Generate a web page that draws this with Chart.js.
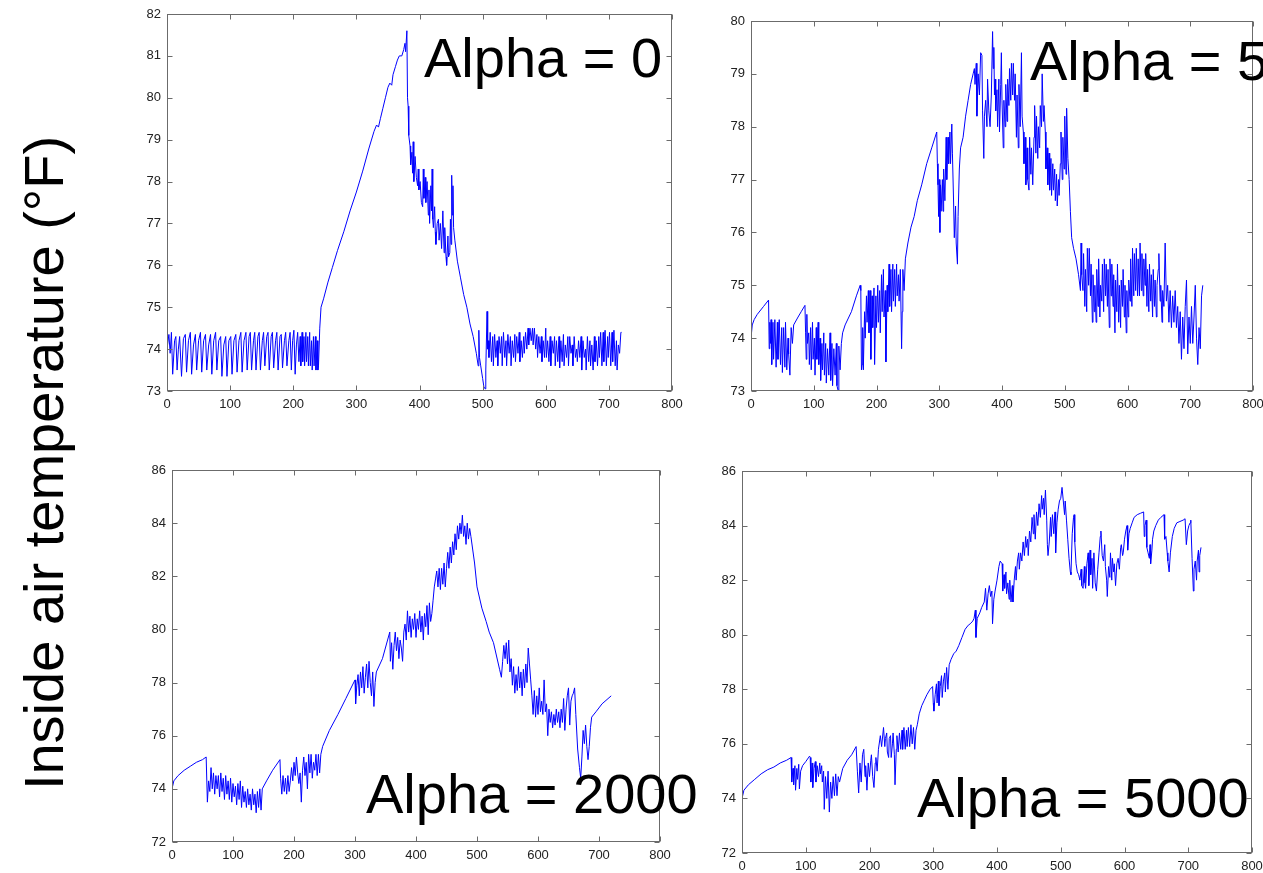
<!DOCTYPE html>
<html>
<head>
<meta charset="utf-8">
<script src="https://cdn.jsdelivr.net/npm/chart.js@4.4.1/dist/chart.umd.min.js"></script>
<style>
  html, body { margin:0; padding:0; background:#fff; width:1263px; height:873px; overflow:hidden; }
  .cv { position:absolute; }
  .big { position:absolute; font-family:"Liberation Sans", Arial, sans-serif; font-size:56px; line-height:56px; color:#000; white-space:nowrap; z-index:5; }
  #ytitle { position:absolute; width:700px; height:56px; left:-306.4px; top:434.5px; font-family:"Liberation Sans", Arial, sans-serif; font-size:56px; line-height:56px; text-align:center; white-space:nowrap; transform:rotate(-90deg); color:#000; }
</style>
</head>
<body>
<div id="ytitle">Inside air temperature (°F)</div>
<canvas id="c0" class="cv"></canvas>
<canvas id="c1" class="cv"></canvas>
<canvas id="c2" class="cv"></canvas>
<canvas id="c3" class="cv"></canvas>
<div class="big" style="left:424px; top:29.6px;">Alpha = 0</div>
<div class="big" style="left:1030px; top:32.6px;">Alpha = 5</div>
<div class="big" style="left:366px; top:765.6px;">Alpha = 2000</div>
<div class="big" style="left:917px; top:769.6px;">Alpha = 5000</div>
<script>
// ---- tick labels ----
const xTicks = [0,100,200,300,400,500,600,700,800];
const yTicksA0 = [73,74,75,76,77,78,79,80,81,82];
const yTicksA5 = [73,74,75,76,77,78,79,80];
const yTicksA2000 = [72,74,76,78,80,82,84,86];
const yTicksA5000 = [72,74,76,78,80,82,84,86];
const titles = ["Alpha = 0", "Alpha = 5", "Alpha = 2000", "Alpha = 5000"];

// ---- series: [time, inside air temperature °F] ----
const alpha0 = [[0,74.0],[3,74.35],[5,73.9],[7,74.4],[9,73.4],[12,74.2],[14,74.3],[16,73.5],[18,74.0],[20,74.3],[23,73.35],[26,74.25],[29,74.35],[31,73.45],[34,74.2],[37,74.4],[39,73.4],[42,74.1],[45,74.35],[47,73.5],[50,74.2],[53,74.4],[55,73.45],[58,74.2],[61,74.35],[63,73.5],[66,74.1],[69,74.35],[71,73.4],[74,74.2],[77,74.4],[79,73.5],[82,74.2],[85,74.3],[87,73.35],[90,74.1],[93,74.3],[95,73.35],[98,74.2],[101,74.3],[103,73.4],[106,74.2],[109,74.35],[111,73.45],[114,74.2],[117,74.4],[119,73.45],[122,74.2],[125,74.4],[127,73.5],[130,74.3],[132,74.4],[134,73.5],[137,74.2],[139,74.4],[141,73.5],[144,74.3],[146,74.4],[148,73.5],[151,74.2],[153,74.4],[155,73.6],[158,74.3],[160,74.4],[162,73.5],[165,74.3],[167,74.4],[169,73.55],[172,74.2],[174,74.4],[176,73.5],[179,74.3],[181,74.35],[183,73.55],[186,74.2],[188,74.4],[190,73.6],[193,74.2],[195,74.4],[197,73.5],[199,74.2],[201,74.45],[203,73.4],[205,74.1],[207,74.4],[209,73.7],[211,74.3],[212,73.6],[214,74.4],[215,73.7],[217,74.3],[218,73.6],[220,74.4],[221,73.7],[223,74.3],[224,73.6],[226,74.4],[227,73.6],[229,74.2],[230,73.5],[232,74.3],[233,73.6],[235,74.3],[236,73.5],[238,74.2],[239,73.5],[240,73.6],
[242,74.5],[244,75.0],[248,75.2],[255,75.6],[262,75.95],[270,76.35],[280,76.8],[290,77.3],[300,77.75],[310,78.25],[320,78.8],[328,79.2],[332,79.35],[335,79.3],[338,79.5],[342,79.75],[346,80.0],[350,80.25],[353,80.35],[356,80.3],[358,80.55],[362,80.75],[365,80.9],[368,81.0],[372,81.0],[375,81.15],[377,81.3],[378,81.1],[380,81.6],[381,80.0],[382,79.8],[383,79.1],[385,78.85],[386,78.4],[388,78.7],[389,78.2],[390,78.95],[391,78.0],[393,78.6],[395,78.1],[397,77.9],
[398,78.3],[399,77.8],[401,78.0],[403,77.5],[405,77.4],[406,78.3],[407,77.6],[409,78.1],[410,77.5],[412,78.0],[414,77.2],[415,77.8],[416,77.0],[418,77.9],[419,77.3],[420,78.3],[421,77.1],[422,76.9],[424,77.4],[425,76.8],[426,76.5],[428,77.0],[430,77.1],[431,76.6],[433,77.0],[435,76.4],[437,77.3],[439,76.3],[440,76.9],[442,76.2],[443,76.0],[445,76.7],[446,76.2],[448,76.3],[449,77.1],[450,76.5],[451,78.15],[452,77.2],[453,77.9],[454,76.9],
[456,76.6],[460,76.1],[465,75.7],[470,75.3],[475,75.0],[480,74.6],[485,74.3],[490,73.9],[493,73.6],[494,74.45],[495,73.8],[497,73.6],[500,73.3],[502,73.1],[504,73.05],[505,73.5],[507,74.9],[508,74.0],[509,74.2],[510,73.8],
[512,74.4],[514,73.7],[516,74.3],[517,73.6],[519,74.35],[521,73.8],[523,74.2],[524,73.6],[526,74.3],[528,73.9],[530,74.3],[531,73.6],[533,74.4],[535,73.8],[537,74.2],[538,73.6],[540,74.35],[542,73.9],[544,74.3],[545,73.6],[547,74.2],[549,73.8],[551,74.35],[552,73.7],[554,74.3],[556,73.9],[558,74.4],[559,73.7],[561,74.2],[563,73.8],[565,74.3],[566,73.9],[568,74.4],[570,74.0],[572,74.5],[573,74.1],[575,74.5],[577,74.2],[579,74.5],[580,74.1],[582,74.5],[584,74.0],[586,74.35],[587,73.8],[589,74.3],[591,73.9],[593,74.3],[594,73.7],[596,74.2],[598,73.8],[600,74.5],[601,73.8],[603,74.2],[605,73.7],[607,74.3],[608,73.6],[610,74.2],[612,73.9],[614,74.3],[615,73.6],[617,74.2],[619,73.7],[621,74.3],[622,73.55],[624,74.2],[626,73.7],[628,74.35],[629,73.6],[631,74.1],[633,73.8],[635,74.3],[636,73.6],[638,74.3],[640,73.9],[642,74.1],[643,73.6],[645,74.3],[647,73.8],[649,74.0],[650,73.7],[652,74.2],[654,73.8],[656,74.3],[657,73.5],[659,74.2],[661,73.8],[663,74.0],[664,73.5],[666,74.3],[668,73.7],[670,74.2],[671,73.6],[673,74.1],[675,73.5],[677,74.3],[678,73.7],[680,74.2],[682,73.6],[684,74.3],[685,73.8],[687,74.4],[689,73.6],[691,74.4],[692,73.7],[694,74.45],[696,73.6],[698,74.3],[699,73.8],[701,74.4],[703,73.6],[705,74.4],[706,73.7],[708,74.45],[710,73.6],[712,74.2],[713,73.5],[715,74.1],[717,73.9],[719,74.4],[720,74.4]];

const alpha5 = [[0,74.0],[2,74.25],[5,74.35],[10,74.45],[20,74.6],[28,74.72],[29,73.8],[30,74.3],[31,73.9],[32,74.35],[33,73.5],[35,74.3],[36,73.6],[38,74.35],[40,73.45],[42,74.3],[43,73.6],[45,74.35],[47,73.5],[49,74.2],[50,73.35],[52,74.2],[54,73.45],[55,74.3],[57,73.4],[59,74.0],[60,73.7],[62,73.3],[64,74.2],[66,73.9],[68,74.25],[75,74.4],[80,74.5],[86,74.62],[87,74.1],[88,73.6],[89,74.45],[90,73.9],[92,74.1],[93,73.5],[95,74.2],[96,73.4],[98,74.3],[99,73.6],[101,74.0],[102,73.3],[104,74.2],[105,73.6],[107,74.3],[108,73.5],[110,74.0],[111,73.2],[113,73.9],[114,73.4],[116,74.1],[117,73.3],[119,73.9],[120,73.15],[122,73.8],[124,73.3],[126,74.1],[127,73.2],[129,73.9],[130,73.1],[132,73.8],[134,73.3],[136,73.9],[137,73.1],[139,73.0],[140,73.85],[142,73.4],[144,73.9],[146,74.1],[150,74.25],[160,74.5],[168,74.8],[174,75.0],[175,74.9],[176,73.4],[177,73.5],[178,74.2],[179,73.4],[181,74.5],[182,74.0],[184,74.8],[185,74.3],[187,74.9],[188,74.1],[190,74.9],[191,73.6],[193,74.8],[194,74.2],[196,74.95],[197,73.5],[199,74.8],[200,74.2],[202,75.0],[203,74.3],[205,74.9],[206,74.1],[208,75.2],[209,74.5],[211,75.3],[212,74.4],[214,74.9],[215,73.55],[217,75.0],[218,74.5],[220,75.4],[221,74.6],[223,75.3],[224,74.5],[226,75.4],[227,74.7],[229,75.3],[230,74.6],[232,75.4],[233,74.8],[235,75.2],[236,74.7],[238,75.3],[240,73.8],[241,74.5],[242,75.3],[244,74.9],[246,75.5],[250,75.8],[255,76.1],[260,76.3],[265,76.6],[272,76.9],[280,77.3],[288,77.6],[296,77.9],[297,77.3],[298,76.9],[299,76.3],[300,77.0],[301,76.0],[302,76.9],[303,76.4],[305,77.0],[306,76.4],[307,77.2],[309,76.6],[311,77.8],[312,77.0],[314,77.8],[315,77.3],[317,77.9],[318,77.3],[320,78.05],[321,77.5],[323,76.5],[324,75.9],[326,76.5],[327,75.8],[329,75.4],[330,76.3],[332,77.2],[334,77.6],[338,77.8],[342,78.2],[346,78.5],[350,78.8],[354,79.0],[356,79.1],[357,78.8],[359,79.2],[360,78.2],[362,79.0],[364,78.6],[366,79.4],[368,79.35],[369,78.3],[371,77.4],[372,78.2],[374,78.5],[376,78.0],[377,78.9],[379,78.3],[381,78.0],[383,78.6],[385,79.8],[386,79.1],[387,79.5],[388,78.6],[389,78.9],[390,78.3],[392,78.7],[393,78.0],[395,78.9],[396,77.9],[398,78.8],[399,79.4],[400,78.5],[402,77.6],[403,78.5],[405,78.0],[406,78.8],[408,78.1],[409,78.9],[411,78.4],[412,79.1],[414,78.5],[415,79.2],[417,78.6],[418,79.2],[420,78.5],[421,79.0],[423,77.8],[424,78.6],[426,77.6],[427,78.8],[429,78.0],[431,79.4],[432,78.2],[434,77.9],[435,77.3],[437,77.8],[438,76.9],[440,77.6],[441,77.0],[443,76.8],[444,77.8],[446,77.1],[447,77.6],[449,76.9],[451,77.8],[452,78.4],[454,77.5],[455,78.2],[457,77.4],[458,78.0],[460,77.6],[461,78.4],[463,78.0],[464,79.0],[466,78.1],[467,78.4],[469,77.9],[470,77.2],[472,77.6],[473,76.9],[475,77.5],[476,76.8],[478,77.4],[479,76.7],[481,77.3],[482,76.8],[484,77.2],[485,76.6],[487,77.1],[488,76.5],[490,77.0],[491,76.7],[493,77.3],[494,77.9],[496,77.0],[497,77.8],[499,77.2],[500,78.2],[502,77.1],[503,78.35],[505,77.4],[507,77.0],[509,76.4],[511,75.9],[514,75.7],[518,75.5],[522,75.2],[525,74.9],[526,75.8],[527,75.2],[529,74.9],[530,75.6],[532,74.6],[533,75.3],[535,74.5],[536,75.7],[538,75.0],[539,75.7],[541,74.8],[542,75.4],[544,74.3],[545,75.2],[547,74.5],[548,75.0],[550,74.3],[551,75.3],[553,74.6],[554,75.5],[556,74.4],[557,75.0],[559,74.7],[560,75.4],[562,74.5],[563,75.5],[565,74.8],[566,75.4],[568,74.6],[569,75.3],[571,74.2],[572,75.5],[574,74.8],[575,75.4],[577,74.6],[578,75.2],[580,74.1],[581,75.1],[583,74.5],[584,75.4],[586,74.3],[587,75.0],[589,74.2],[590,75.1],[592,74.6],[593,75.3],[595,74.4],[596,75.0],[598,74.1],[599,74.9],[601,74.4],[602,75.1],[604,74.7],[605,75.5],[607,74.6],[608,75.7],[610,74.8],[611,75.6],[613,74.9],[614,75.7],[616,74.8],[617,75.5],[619,74.8],[620,75.8],[622,74.9],[623,75.6],[625,74.8],[626,75.5],[628,75.0],[629,75.6],[631,74.6],[632,75.3],[634,74.5],[635,75.4],[637,74.7],[638,75.2],[640,74.4],[641,75.3],[643,74.6],[644,75.1],[646,74.4],[647,75.0],[649,75.3],[650,75.6],[652,74.7],[653,75.0],[655,74.3],[656,74.9],[658,74.6],[660,75.8],[662,74.7],[664,75.0],[666,74.3],[668,74.9],[670,74.2],[672,74.8],[674,74.3],[676,74.9],[678,74.2],[680,74.6],[682,73.9],[684,74.5],[686,73.6],[688,74.4],[690,73.8],[692,74.6],[694,75.1],[696,73.7],[698,74.4],[700,73.9],[702,74.6],[704,73.9],[706,74.4],[708,75.0],[710,74.0],[712,73.5],[714,74.2],[716,73.8],[718,74.8],[720,75.0]];

const alpha2000 = [[0,74.0],[3,74.3],[10,74.5],[20,74.7],[30,74.85],[40,75.0],[50,75.1],[56,75.2],[58,73.5],[60,74.3],[62,73.9],[64,74.8],[66,74.0],[68,74.6],[70,73.8],[72,74.5],[74,74.0],[76,74.5],[78,73.7],[80,74.6],[82,73.9],[84,74.4],[86,73.6],[88,74.5],[90,73.8],[92,74.3],[94,73.6],[96,74.4],[98,73.5],[100,74.2],[102,73.7],[104,74.1],[106,73.4],[108,74.2],[110,73.6],[112,74.3],[114,73.3],[116,74.1],[118,73.5],[120,73.9],[122,73.3],[124,74.0],[126,73.4],[128,73.8],[130,73.2],[132,74.0],[134,73.4],[136,73.8],[138,73.1],[140,73.9],[142,73.3],[144,74.0],[146,73.2],[148,74.0],[155,74.3],[165,74.7],[177,75.1],[178,74.4],[180,73.8],[182,74.5],[184,73.9],[186,74.4],[188,73.8],[190,74.5],[192,73.9],[194,74.3],[196,74.8],[198,74.3],[200,75.0],[202,74.5],[204,75.2],[206,74.6],[208,74.2],[210,74.6],[212,73.5],[214,74.7],[216,75.2],[218,74.5],[220,75.0],[222,74.0],[224,75.3],[226,74.6],[228,75.3],[230,74.4],[232,75.0],[234,74.7],[236,75.3],[238,74.5],[240,75.3],[242,74.6],[244,75.3],[247,75.6],[258,76.2],[272,76.8],[285,77.4],[300,78.1],[301,77.2],[303,77.9],[305,78.3],[307,77.5],[309,78.4],[311,77.8],[313,78.6],[315,77.6],[317,78.2],[319,78.7],[321,77.8],[323,78.8],[325,78.0],[327,77.5],[329,78.4],[331,77.1],[333,78.0],[335,78.4],[345,78.9],[357,79.9],[358,78.8],[360,79.5],[362,78.5],[364,79.4],[366,79.9],[368,79.2],[370,79.7],[372,78.9],[374,79.6],[376,79.3],[378,78.8],[380,79.9],[382,80.2],[384,79.6],[386,80.7],[388,79.9],[390,80.5],[392,79.7],[394,80.4],[396,80.0],[398,80.6],[400,79.7],[402,80.4],[404,80.0],[406,80.7],[408,79.9],[410,80.5],[412,79.6],[414,80.6],[416,80.1],[418,80.9],[420,79.8],[422,81.0],[424,80.3],[426,80.6],[428,81.1],[430,81.6],[432,81.9],[434,82.2],[436,81.6],[438,82.3],[440,81.5],[442,82.3],[444,81.7],[446,82.5],[448,81.6],[450,82.3],[452,82.9],[454,82.3],[456,83.1],[458,82.5],[460,83.3],[462,82.8],[464,83.6],[466,83.0],[468,83.9],[470,83.4],[472,84.0],[474,83.6],[476,84.3],[478,83.5],[480,83.9],[482,83.2],[484,84.0],[486,83.4],[488,83.8],[490,83.5],[496,82.5],[500,81.6],[508,80.8],[515,80.3],[520,79.9],[527,79.5],[532,79.0],[537,78.5],[540,78.2],[542,78.8],[544,79.4],[546,78.9],[548,79.5],[550,78.7],[552,79.6],[554,78.4],[556,78.9],[558,77.9],[560,78.6],[562,77.6],[564,78.3],[566,77.7],[568,78.6],[570,77.8],[572,78.4],[574,77.5],[576,78.5],[578,77.8],[580,78.7],[582,78.0],[584,79.3],[586,78.7],[588,78.1],[590,77.5],[592,76.8],[594,77.7],[596,76.7],[598,77.5],[600,76.8],[602,77.8],[604,76.9],[606,77.3],[608,76.8],[610,78.1],[612,76.9],[614,77.2],[616,76.0],[618,77.0],[620,76.5],[622,76.9],[624,76.3],[626,76.8],[628,76.4],[630,77.0],[632,76.5],[634,76.9],[636,76.3],[638,77.0],[640,76.5],[642,77.4],[644,76.2],[646,77.0],[648,77.5],[650,77.8],[652,76.4],[654,77.3],[656,77.5],[658,77.6],[660,77.8],[662,76.8],[665,75.5],[668,74.8],[670,74.4],[672,75.2],[674,76.2],[676,75.7],[678,76.4],[680,75.6],[682,75.1],[684,75.6],[686,76.3],[688,76.7],[695,76.9],[705,77.2],[720,77.5]];

const alpha5000 = [[0,74.0],[3,74.3],[10,74.5],[20,74.7],[30,74.9],[40,75.05],[50,75.15],[60,75.3],[70,75.4],[77,75.5],[78,74.6],[80,75.1],[81,74.5],[83,75.2],[84,74.3],[86,75.1],[87,74.7],[89,75.25],[90,74.35],[92,75.0],[95,75.2],[100,75.35],[106,75.55],[107,75.5],[108,74.6],[110,75.3],[111,74.4],[113,75.1],[115,75.35],[116,74.6],[118,75.2],[120,74.8],[122,75.3],[123,74.9],[125,75.2],[126,74.6],[128,75.0],[129,73.6],[131,74.8],[133,74.0],[135,75.0],[137,73.5],[139,74.6],[141,74.0],[143,74.8],[145,74.1],[147,74.9],[149,74.1],[151,74.8],[153,74.6],[158,75.1],[165,75.4],[172,75.6],[179,75.9],[181,75.0],[183,74.2],[185,75.3],[187,74.6],[189,75.6],[191,75.8],[193,74.8],[194,75.2],[196,74.3],[198,75.3],[200,74.8],[202,75.4],[203,75.6],[205,74.8],[207,74.4],[209,75.3],[210,75.5],[212,75.0],[214,75.8],[217,76.3],[219,75.9],[222,76.6],[224,75.9],[225,76.2],[227,76.4],[228,75.7],[230,75.5],[231,76.2],[233,76.3],[234,75.5],[236,76.0],[237,76.4],[239,75.6],[240,74.5],[242,75.8],[243,76.3],[245,75.7],[247,76.4],[249,75.8],[251,76.5],[252,75.8],[254,76.6],[256,75.8],[258,76.5],[259,75.9],[261,76.6],[263,75.9],[265,76.7],[267,76.0],[269,76.6],[271,75.8],[273,76.5],[275,76.7],[278,77.1],[282,77.4],[286,77.6],[290,77.8],[295,78.0],[299,78.1],[300,77.5],[301,77.2],[303,77.8],[305,78.2],[306,77.5],[308,78.3],[309,77.4],[311,78.1],[313,78.5],[314,77.7],[316,78.3],[318,78.6],[319,77.9],[321,78.8],[323,78.0],[325,78.9],[328,79.1],[332,79.3],[336,79.4],[340,79.6],[345,79.9],[350,80.2],[355,80.35],[358,80.4],[362,80.5],[364,80.6],[366,80.9],[367,79.9],[369,80.6],[373,80.8],[376,81.0],[380,81.2],[382,81.7],[384,80.9],[386,81.5],[388,81.8],[390,81.4],[392,81.6],[393,80.4],[395,81.3],[397,81.6],[400,82.0],[403,82.5],[405,82.7],[408,82.6],[409,81.6],[411,82.2],[412,81.7],[414,82.3],[415,81.5],[417,81.9],[419,81.3],[420,82.0],[422,81.2],[424,81.8],[425,81.2],[427,82.0],[429,82.5],[430,82.0],[432,82.7],[434,83.0],[435,82.4],[437,83.0],[439,82.7],[441,83.4],[443,82.9],[445,83.6],[446,83.2],[448,83.5],[449,82.9],[451,83.8],[453,83.4],[455,84.3],[457,83.7],[458,84.4],[460,83.5],[462,84.5],[464,84.0],[466,84.8],[468,84.3],[470,85.1],[471,84.6],[473,85.0],[474,84.4],[476,85.3],[478,84.2],[479,83.3],[480,82.9],[482,83.4],[484,84.3],[485,83.6],[487,84.4],[489,83.7],[491,84.5],[492,83.0],[494,84.1],[496,84.6],[498,84.9],[500,85.0],[502,85.4],[504,84.9],[506,84.4],[507,84.9],[509,84.2],[511,83.5],[513,82.8],[515,82.3],[516,82.2],[518,83.7],[520,84.3],[521,84.4],[522,83.4],[524,82.6],[526,82.3],[528,82.2],[530,82.0],[532,82.4],[533,81.8],[535,81.7],[537,82.5],[538,81.9],[539,81.7],[541,82.6],[543,83.0],[544,81.8],[546,83.1],[547,82.2],[549,82.8],[550,81.7],[552,83.0],[554,81.9],[556,81.6],[558,82.4],[560,83.0],[562,83.6],[563,83.8],[565,82.9],[567,82.7],[569,83.3],[570,82.5],[572,82.0],[573,81.4],[575,82.5],[577,82.1],[578,83.0],[580,82.0],[581,82.8],[583,82.3],[584,82.6],[586,81.8],[588,82.6],[590,82.8],[592,82.4],[594,83.2],[595,83.3],[597,82.9],[598,83.0],[600,83.5],[602,83.8],[604,84.0],[605,83.1],[607,83.7],[609,83.9],[612,84.1],[615,84.3],[620,84.4],[625,84.45],[630,84.5],[631,83.6],[632,84.0],[634,84.2],[635,83.2],[637,83.0],[639,82.8],[640,83.3],[641,82.6],[643,83.1],[644,83.5],[646,83.8],[649,84.0],[653,84.2],[657,84.3],[662,84.4],[663,83.5],[665,83.6],[667,83.0],[668,82.7],[670,82.3],[672,83.0],[675,83.6],[678,83.9],[682,84.1],[687,84.15],[692,84.2],[695,84.25],[697,83.3],[699,83.8],[701,84.0],[703,84.1],[704,84.2],[706,82.8],[708,81.6],[709,82.4],[711,82.7],[713,82.0],[714,82.7],[716,83.1],[717,82.3],[718,82.9],[720,83.2]];

// ---- layout (plot-area boxes in page pixels) ----
const boxes = [
  {id:'c0', L:167, T:14,  W:505, H:377, data:alpha0,    yTicks:yTicksA0},
  {id:'c1', L:751, T:21,  W:502, H:370, data:alpha5,    yTicks:yTicksA5},
  {id:'c2', L:172, T:470, W:488, H:372, data:alpha2000, yTicks:yTicksA2000},
  {id:'c3', L:742, T:471, W:510, H:382, data:alpha5000, yTicks:yTicksA5000}
];
const PADL = 40, PADT = 12, PADR = 16, PADB = 26;

const framePlugin = {
  id: 'matlabFrame',
  afterDraw(chart) {
    const {ctx, chartArea: a, scales} = chart;
    ctx.save();
    ctx.strokeStyle = '#6b6b6b';
    ctx.lineWidth = 1;
    const l = Math.round(a.left) + 0.5, r = Math.round(a.right) - 0.5;
    const t = Math.round(a.top) + 0.5, b = Math.round(a.bottom) - 0.5;
    ctx.strokeRect(l, t, r - l, b - t);
    const tl = 5;
    ctx.beginPath();
    scales.x.ticks.forEach(tk => {
      const px = Math.round(scales.x.getPixelForValue(tk.value)) + 0.5;
      ctx.moveTo(px, b); ctx.lineTo(px, b - tl);
      ctx.moveTo(px, t); ctx.lineTo(px, t + tl);
    });
    scales.y.ticks.forEach(tk => {
      const py = Math.round(scales.y.getPixelForValue(tk.value)) + 0.5;
      ctx.moveTo(l, py); ctx.lineTo(l + tl, py);
      ctx.moveTo(r, py); ctx.lineTo(r - tl, py);
    });
    ctx.stroke();
    ctx.restore();
  }
};

const tickFont = {family: '"Liberation Sans", Arial, sans-serif', size: 13};

function zeroPad(s) { s.paddingLeft = 0; s.paddingRight = 0; s.paddingTop = 0; s.paddingBottom = 0; }

boxes.forEach(bx => {
  const cv = document.getElementById(bx.id);
  const cw = bx.W + PADL + PADR, ch = bx.H + PADT + PADB;
  cv.width = cw; cv.height = ch;
  cv.style.width = cw + 'px'; cv.style.height = ch + 'px';
  cv.style.left = (bx.L - PADL) + 'px';
  cv.style.top = (bx.T - PADT) + 'px';
  const yMin = bx.yTicks[0], yMax = bx.yTicks[bx.yTicks.length - 1];
  const yStep = bx.yTicks[1] - bx.yTicks[0];
  new Chart(cv, {
    type: 'line',
    data: {
      datasets: [{
        data: bx.data.map(p => ({x: p[0], y: p[1]})),
        borderColor: '#0000ff',
        borderWidth: 1,
        pointRadius: 0,
        tension: 0,
        fill: false
      }]
    },
    options: {
      responsive: false,
      animation: false,
      devicePixelRatio: 1,
      layout: {padding: {left: 0, top: PADT, right: PADR, bottom: 0}},
      plugins: {legend: {display: false}, tooltip: {enabled: false}},
      scales: {
        x: {
          type: 'linear', min: xTicks[0], max: xTicks[xTicks.length - 1],
          grid: {display: false, drawTicks: false},
          border: {display: false},
          ticks: {stepSize: 100, autoSkip: false, maxRotation: 0, font: tickFont, color: '#222', padding: 6},
          afterFit: s => { s.height = PADB; zeroPad(s); }
        },
        y: {
          type: 'linear', min: yMin, max: yMax,
          grid: {display: false, drawTicks: false},
          border: {display: false},
          ticks: {stepSize: yStep, autoSkip: false, font: tickFont, color: '#222', padding: 6},
          afterFit: s => { s.width = PADL; zeroPad(s); }
        }
      }
    },
    plugins: [framePlugin]
  });
});
</script>
</body>
</html>
